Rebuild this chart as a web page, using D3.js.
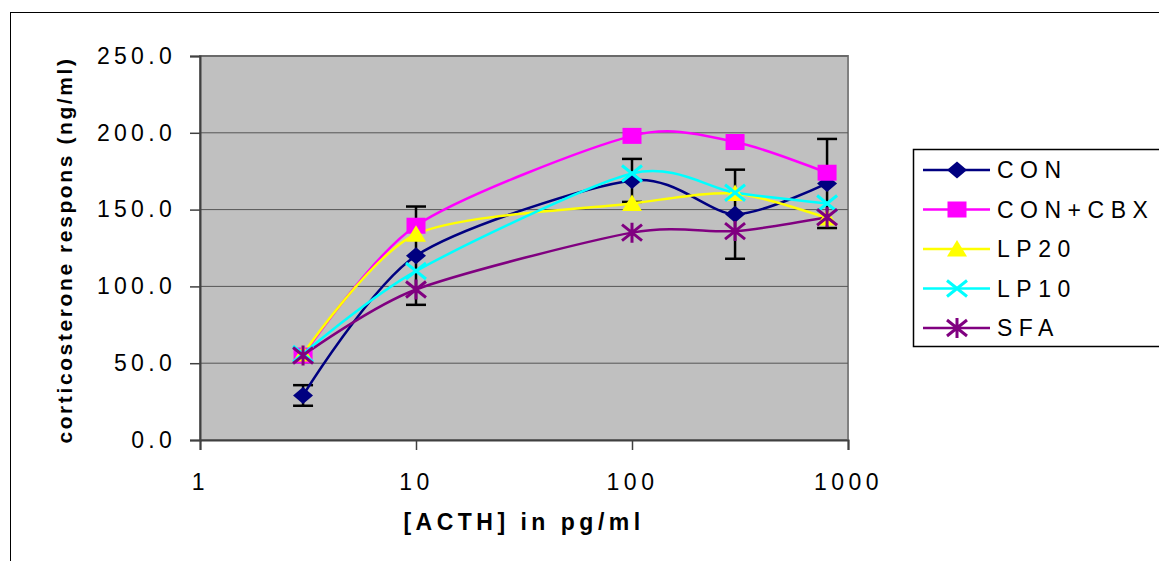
<!DOCTYPE html>
<html>
<head>
<meta charset="utf-8">
<script src="https://cdn.jsdelivr.net/npm/d3@7"></script>
<style>
  body { margin: 0; background: #fff; }
  svg { display: block; font-family: "Liberation Sans", Arial, sans-serif; }
</style>
</head>
<body>
<svg id="chart" width="1159" height="561"></svg>
<script>
// doses (pg/ml ACTH)
var doses = [3, 10, 100, 300, 800];
var seriesNames = ["CON", "CON+CBX", "LP20", "LP10", "SFA"];
var conValues = [29, 120, 169, 147, 167];
var conErrors = [6.7, 32, 14, 29, 29];
var cbxValues = [55, 139.5, 198, 194, 174];
var lp20Values = [56, 134, 154, 160.5, 144.5];
var lp10Values = [56, 110, 173.5, 161, 154];
var sfaValues = [55, 98, 135, 136, 145];
var yTicks = [0, 50, 100, 150, 200, 250];
var xTicks = [1, 10, 100, 1000];

(function () {
    var svg = d3.select("#chart");

    var x = d3.scaleLog().domain([1, 1000]).range([200, 848]),
        y = d3.scaleLinear().domain([0, 250]).range([440, 56]);

    var series = [
        {name: seriesNames[0], values: conValues, color: "#000080", marker: "diamond", err: conErrors},
        {name: seriesNames[1], values: cbxValues, color: "#ff00ff", marker: "square"},
        {name: seriesNames[2], values: lp20Values, color: "#ffff00", marker: "triangle"},
        {name: seriesNames[3], values: lp10Values, color: "#00ffff", marker: "x"},
        {name: seriesNames[4], values: sfaValues, color: "#800080", marker: "star"}
    ];

    // outer chart frame
    svg.append("rect")
        .attr("x", 10.5).attr("y", 12.5)
        .attr("width", 1160).attr("height", 560)
        .style("fill", "none").style("stroke", "#000").style("stroke-width", 1);

    // plot area
    svg.append("rect")
        .attr("x", x(1)).attr("y", y(250))
        .attr("width", x(1000) - x(1)).attr("height", y(0) - y(250))
        .style("fill", "#c0c0c0")
        .style("stroke", "#808080").style("stroke-width", 2);

    // gridlines
    svg.selectAll(".grid")
        .data(yTicks.slice(1))
        .enter().append("line")
        .attr("x1", x(1)).attr("x2", x(1000))
        .attr("y1", function (d) { return y(d); })
        .attr("y2", function (d) { return y(d); })
        .style("stroke", "#555").style("stroke-width", 1);

    // y axis
    var yAxis = svg.append("g")
        .attr("transform", "translate(" + x(1) + ",0)")
        .call(d3.axisLeft(y).tickValues(yTicks).tickFormat(d3.format(".1f")).tickSize(10).tickPadding(14));
    yAxis.select(".domain").style("stroke", "#404040").style("stroke-width", 2);
    yAxis.selectAll(".tick line").style("stroke", "#404040").style("stroke-width", 1.5);
    yAxis.selectAll(".tick text")
        .style("font-size", "23px").style("letter-spacing", "4.3px")
        .style("fill", "#000").style("font-family", "Liberation Sans, Arial, sans-serif");

    // x axis
    var xAxis = svg.append("g")
        .attr("transform", "translate(0," + y(0) + ")")
        .call(d3.axisBottom(x).tickValues(xTicks).tickFormat(d3.format("d")).tickSize(10).tickPadding(23.5));
    xAxis.select(".domain").style("stroke", "#404040").style("stroke-width", 2);
    xAxis.selectAll(".tick line").style("stroke", "#404040").style("stroke-width", 1.5);
    xAxis.selectAll(".tick text")
        .style("font-size", "23px").style("letter-spacing", "4.5px")
        .style("fill", "#000").style("font-family", "Liberation Sans, Arial, sans-serif");

    // axis titles
    svg.append("text")
        .attr("x", 524).attr("y", 530)
        .attr("text-anchor", "middle")
        .style("font-size", "23px").style("font-weight", "bold").style("letter-spacing", "4.5px")
        .text("[ACTH] in pg/ml");

    svg.append("text")
        .attr("transform", "translate(72,250) rotate(-90)")
        .attr("text-anchor", "middle")
        .style("font-size", "21px").style("font-weight", "bold").style("letter-spacing", "2.6px")
        .text("corticosterone respons (ng/ml)");

    // error bars (CON)
    var eb = svg.append("g").attr("class", "errorbars");
    conValues.forEach(function (v, i) {
        var cx = x(doses[i]), e = conErrors[i];
        eb.append("line").attr("x1", cx).attr("x2", cx)
            .attr("y1", y(v - e)).attr("y2", y(v + e));
        eb.append("line").attr("x1", cx - 10).attr("x2", cx + 10)
            .attr("y1", y(v - e)).attr("y2", y(v - e));
        eb.append("line").attr("x1", cx - 10).attr("x2", cx + 10)
            .attr("y1", y(v + e)).attr("y2", y(v + e));
    });
    eb.selectAll("line").style("stroke", "#000").style("stroke-width", 2.5);

    var line = d3.line()
        .x(function (d, i) { return x(doses[i]); })
        .y(function (d) { return y(d); })
        .curve(d3.curveCardinal.tension(0.2));

    function drawMarker(g, type, cx, cy, color, s) {
        if (type === "diamond") {
            g.append("path")
                .attr("d", "M" + cx + "," + (cy - s * 0.85) + "L" + (cx + s) + "," + cy +
                    "L" + cx + "," + (cy + s * 0.85) + "L" + (cx - s) + "," + cy + "Z")
                .style("fill", color);
        } else if (type === "square") {
            g.append("rect")
                .attr("x", cx - s * 0.95).attr("y", cy - s * 0.8)
                .attr("width", s * 1.9).attr("height", s * 1.6)
                .style("fill", color);
        } else if (type === "triangle") {
            g.append("path")
                .attr("d", "M" + cx + "," + (cy - s * 0.9) + "L" + (cx + s) + "," + (cy + s * 0.75) +
                    "L" + (cx - s) + "," + (cy + s * 0.75) + "Z")
                .style("fill", color);
        } else if (type === "x") {
            g.append("path")
                .attr("d", "M" + (cx - s) + "," + (cy - s * 0.8) + "L" + (cx + s) + "," + (cy + s * 0.8) +
                    "M" + (cx + s) + "," + (cy - s * 0.8) + "L" + (cx - s) + "," + (cy + s * 0.8))
                .style("fill", "none").style("stroke", color).style("stroke-width", 3);
        } else if (type === "star") {
            g.append("path")
                .attr("d", "M" + (cx - s) + "," + (cy - s * 0.8) + "L" + (cx + s) + "," + (cy + s * 0.8) +
                    "M" + (cx + s) + "," + (cy - s * 0.8) + "L" + (cx - s) + "," + (cy + s * 0.8) +
                    "M" + cx + "," + (cy - s) + "L" + cx + "," + (cy + s))
                .style("fill", "none").style("stroke", color).style("stroke-width", 3);
        }
    }

    // lines + markers, series by series
    series.forEach(function (s) {
        svg.append("path")
            .datum(s.values)
            .attr("d", line)
            .style("fill", "none")
            .style("stroke", s.color)
            .style("stroke-width", 2.5);
    });
    series.forEach(function (s) {
        var g = svg.append("g");
        s.values.forEach(function (v, i) {
            drawMarker(g, s.marker, x(doses[i]), y(v), s.color, 10);
        });
    });

    // legend
    var legend = svg.append("g");
    legend.append("rect")
        .attr("x", 913.5).attr("y", 149.5)
        .attr("width", 260).attr("height", 197)
        .style("fill", "#fff").style("stroke", "#000").style("stroke-width", 1.5);
    series.forEach(function (s, i) {
        var ly = 170 + i * 39.5;
        legend.append("line")
            .attr("x1", 923).attr("x2", 990).attr("y1", ly).attr("y2", ly)
            .style("stroke", s.color).style("stroke-width", 2.5);
        drawMarker(legend, s.marker, 957, ly, s.color, 10);
        legend.append("text")
            .attr("x", 997).attr("y", ly + 8.3)
            .style("font-size", "23px").style("letter-spacing", "6.5px")
            .text(s.name);
    });
}());
</script>
</body>
</html>
